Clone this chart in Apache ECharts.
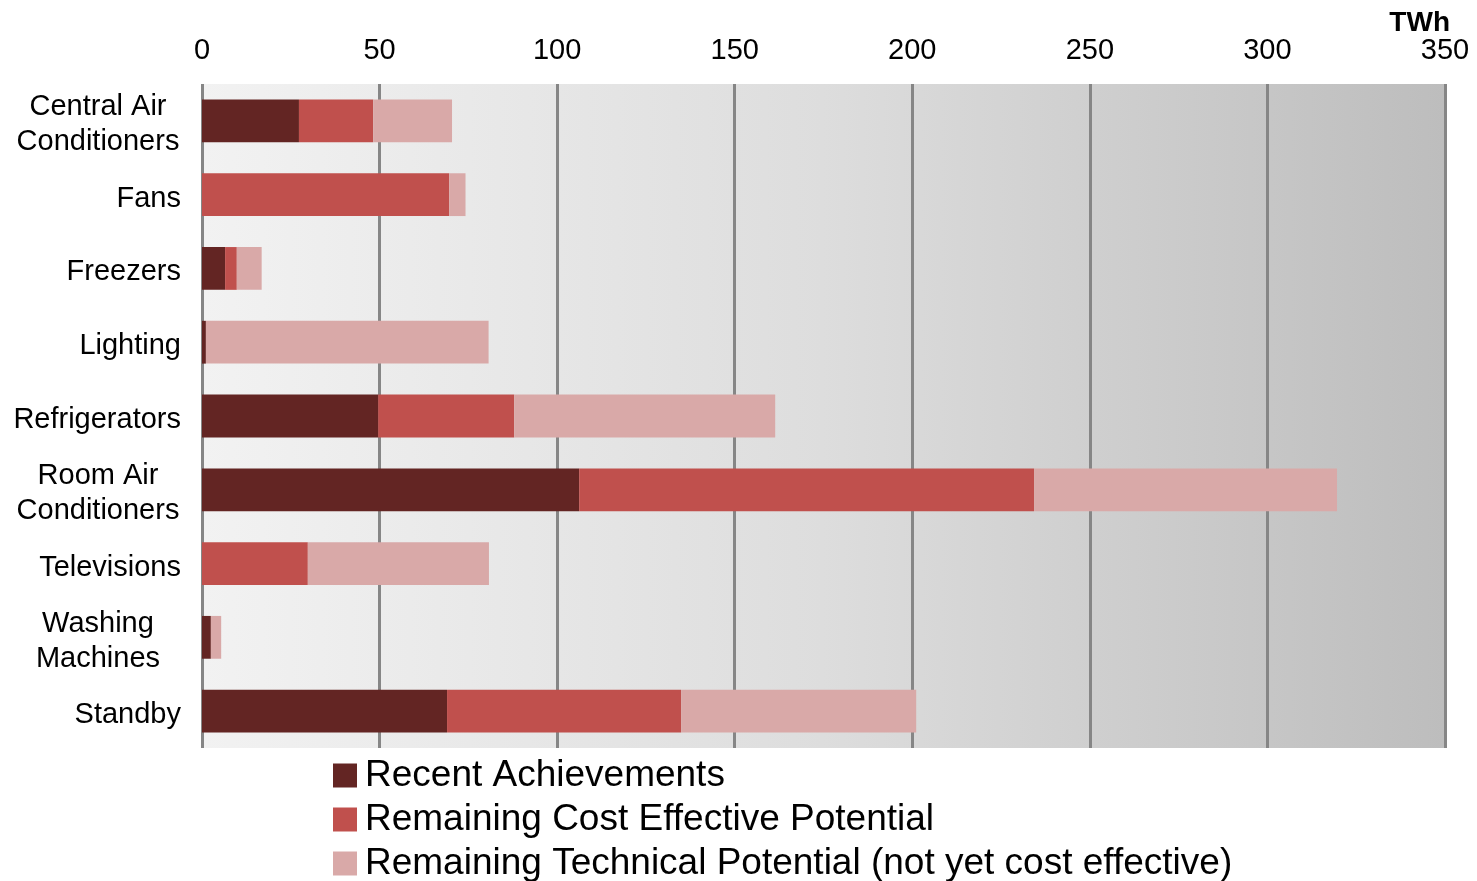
<!DOCTYPE html>
<html>
<head>
<meta charset="utf-8">
<script src="https://cdn.jsdelivr.net/npm/echarts@6/dist/echarts.min.js"></script>
<style>
  html, body { margin: 0; padding: 0; background: #fff; }
  #main { width: 1477px; height: 881px; }
</style>
</head>
<body>
<div id="main"></div>
<script>
// categories, top to bottom
var categories = ['Central Air\nConditioners', 'Fans', 'Freezers', 'Lighting', 'Refrigerators',
  'Room Air\nConditioners', 'Televisions', 'Washing\nMachines', 'Standby'];
// TWh
var recent = [27.3, 0, 6.5, 1.1, 49.6, 106.2, 0, 2.5, 69.0];
var costEffective = [20.9, 69.6, 3.3, 0, 38.3, 128.1, 29.8, 0, 65.9];
var technical = [22.2, 4.6, 7.0, 79.6, 73.5, 85.3, 51.0, 2.9, 66.2];
var ticks = [0, 50, 100, 150, 200, 250, 300, 350];

var seriesNames = ['Recent Achievements', 'Remaining Cost Effective Potential',
  'Remaining Technical Potential (not yet cost effective)'];
var colors = ['#632523', '#C0504D', '#D9A9A8'];

var chart = echarts.init(document.getElementById('main'));

function labelFmt(v) {
  if (v.indexOf('\n') < 0) return v;
  // multi-line labels: lines centred on each other
  return v.split('\n').map(function (s) { return '{c|' + s + '}'; }).join('\n');
}

// one legend per entry so the block never wraps into columns
var legends = seriesNames.map(function (n, i) {
  return {
    orient: 'vertical',
    left: 333, top: 757 + i * 44,
    padding: 0,
    itemWidth: 24, itemHeight: 24,
    icon: 'rect',
    textStyle: { fontSize: 37, color: '#000', padding: [0, 0, 0, 3] },
    data: [n]
  };
});

var option = {
  textStyle: { fontFamily: 'Liberation Sans, Arial, sans-serif' },
  title: {
    text: 'TWh',
    right: 22, top: 4,
    textStyle: { fontSize: 28, fontWeight: 'bold', color: '#000', fontFamily: 'Liberation Sans, Arial' }
  },
  legend: legends,
  grid: {
    left: 202, right: 32, top: 84, bottom: 133,
    show: true,
    borderWidth: 0,
    backgroundColor: new echarts.graphic.LinearGradient(0, 0, 1, 0, [
      { offset: 0, color: '#f2f2f2' },
      { offset: 0.5, color: '#dddddd' },
      { offset: 1, color: '#bdbdbd' }
    ])
  },
  xAxis: {
    type: 'value',
    position: 'top',
    min: 0, max: 350, interval: 50,
    axisLine: { show: false },
    axisTick: { show: false },
    axisLabel: {
      fontSize: 29, color: '#000', margin: 19,
      formatter: function (v) { return ticks.indexOf(v) >= 0 ? String(v) : ''; }
    },
    splitLine: { show: true, lineStyle: { color: '#868686', width: 3 } }
  },
  yAxis: {
    type: 'category',
    inverse: true,
    data: categories,
    axisLine: { show: false },
    axisTick: { show: false },
    axisLabel: {
      fontSize: 29, color: '#000', margin: 21, lineHeight: 35,
      padding: [8, 0, 0, 0],
      formatter: labelFmt,
      rich: { c: { fontSize: 29, align: 'center', width: 166, lineHeight: 35 } }
    }
  },
  series: [recent, costEffective, technical].map(function (d, i) {
    return {
      name: seriesNames[i],
      type: 'bar',
      stack: 'total',
      barWidth: '58%',
      data: d,
      itemStyle: { color: colors[i] },
      emphasis: { disabled: true }
    };
  })
};

chart.setOption(option);
</script>
</body>
</html>
